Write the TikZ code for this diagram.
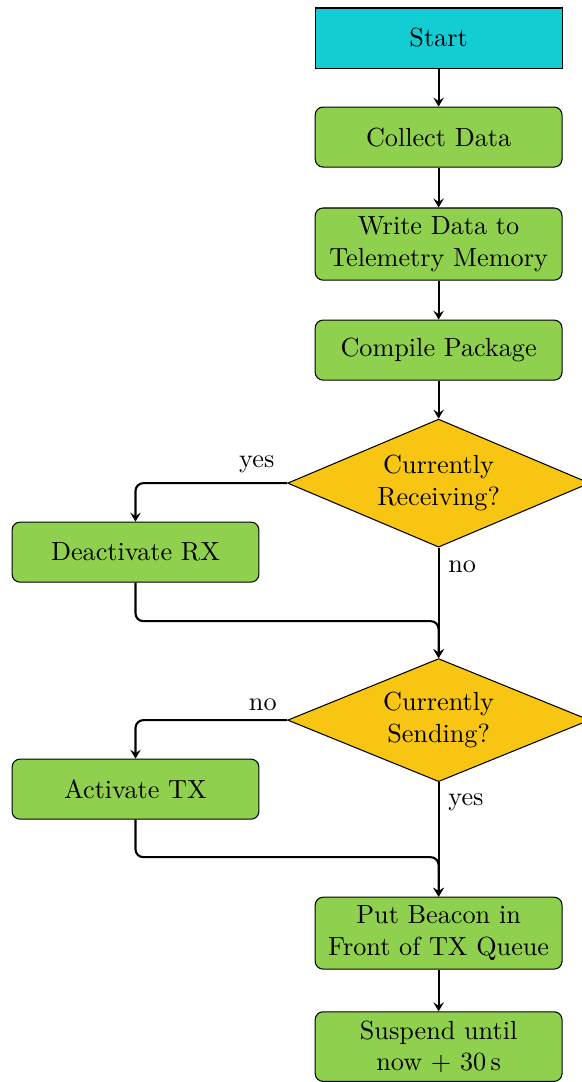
\documentclass[tikz,border=0pt]{standalone}
\usetikzlibrary{shapes.geometric,calc,arrows.meta}
\definecolor{startcyan}{RGB}{18,206,212}
\definecolor{boxgreen}{RGB}{143,209,79}
\definecolor{decyellow}{RGB}{248,198,18}
\begin{document}
\begin{tikzpicture}[
    startbox/.style={draw,fill=startcyan,minimum width=3.31cm,minimum height=0.805cm},
    procbox/.style={draw,fill=boxgreen,rounded corners=3pt,minimum width=3.31cm,minimum height=0.805cm,align=center},
    decision/.style={draw,fill=decyellow,diamond,aspect=2.4,inner sep=0pt,minimum width=4.05cm,minimum height=1.65cm,align=center},
    flow/.style={-{Stealth[length=3.4pt,width=4pt,inset=1.3pt]},thick,rounded corners=3pt}]
    \useasboundingbox(0,0)rectangle(7.805,-14.51);
    \node[startbox](start)at(5.882,-0.510){Start};
    \node[procbox](collect)at(5.882,-1.838){Collect Data};
    \node[procbox](write)at(5.882,-3.273){Write Data to\\Telemetry Memory};
    \node[procbox](compile)at(5.882,-4.695){Compile Package};
    \node[decision,minimum height=1.717cm](recv)at(5.882,-6.479){Currently\\Receiving?};
    \node[procbox](deact)at(1.817,-7.404){Deactivate RX};
    \node[decision](send)at(5.882,-9.657){Currently\\Sending?};
    \node[procbox](act)at(1.817,-10.583){Activate TX};
    \node[procbox](beacon)at(5.882,-12.514){Put Beacon in\\Front of TX Queue};
    \node[procbox](suspend)at(5.882,-14.035){Suspend until\\now $+$ 30\,s};
    \coordinate(join1)at(5.882,-8.330);
    \coordinate(join2)at(5.882,-11.495);
    \draw[flow](start)--(collect);
    \draw[flow](collect)--(write);
    \draw[flow](write)--(compile);
    \draw[flow](compile)--(recv);
    \draw[flow](recv.west)-|node[pos=0.1,above]{yes}(deact.north);
    \draw[flow](recv.south)--node[pos=0.17,right]{no}(send.north);
    \draw[flow](deact.south)|-(join1)--(send.north);
    \draw[flow](send.west)-|node[pos=0.08,above]{no}(act.north);
    \draw[flow](send.south)--node[pos=0.18,right]{yes}(beacon.north);
    \draw[flow](act.south)|-(join2)--(beacon.north);
    \draw[flow](beacon)--(suspend);
\end{tikzpicture}
\end{document}
